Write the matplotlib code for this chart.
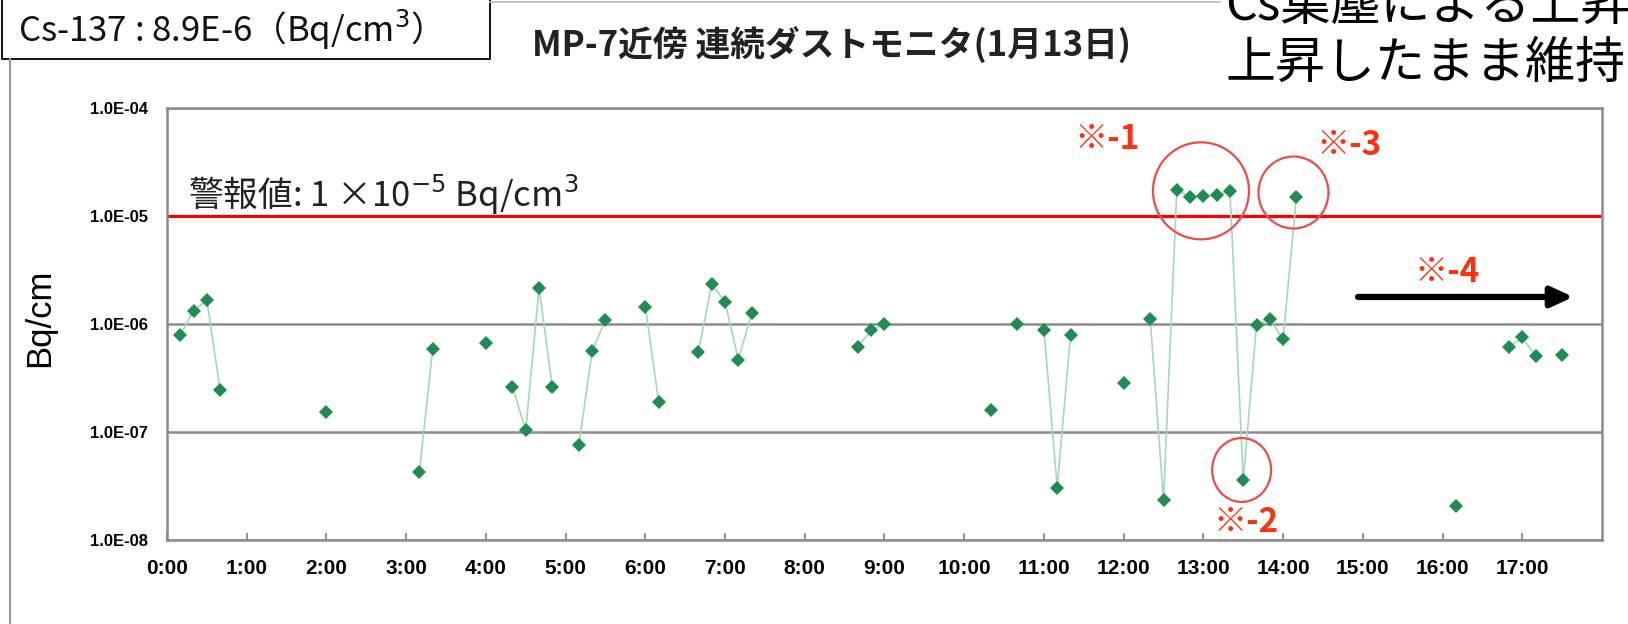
import numpy as np
import pandas as pd
import matplotlib
matplotlib.use('Agg')
import matplotlib.pyplot as plt
import matplotlib.patches as mpatches
import matplotlib.transforms as mtransforms
from matplotlib.lines import Line2D

plt.rcParams['font.family'] = ['Noto Sans CJK JP', 'DejaVu Sans']

# 10-minute readings of the dust monitor (Cs-137, Bq/cm3); missing slots are gaps
times = ['0:10', '0:20', '0:30', '0:40', '2:00', '3:10', '3:20', '4:00',
         '4:20', '4:30', '4:40', '4:50', '5:10', '5:20', '5:30', '6:00', '6:10',
         '6:40', '6:50', '7:00', '7:10', '7:20', '8:40', '8:50', '9:00',
         '10:20', '10:40', '11:00', '11:10', '11:20', '12:00',
         '12:20', '12:30', '12:40', '12:50', '13:00', '13:10', '13:20', '13:30',
         '13:40', '13:50', '14:00', '14:10',
         '16:10', '16:50', '17:00', '17:10', '17:30']
conc = [7.9e-7, 1.33e-6, 1.66e-6, 2.45e-7, 1.52e-7, 4.3e-8, 5.9e-7, 6.6e-7,
        2.63e-7, 1.04e-7, 2.17e-6, 2.6e-7, 7.6e-8, 5.6e-7, 1.09e-6, 1.45e-6, 1.91e-7,
        5.55e-7, 2.33e-6, 1.6e-6, 4.64e-7, 1.26e-6, 6.1e-7, 8.8e-7, 9.9e-7,
        1.6e-7, 1.0e-6, 8.8e-7, 3.05e-8, 7.9e-7, 2.87e-7,
        1.11e-6, 2.34e-8, 1.74e-5, 1.51e-5, 1.53e-5, 1.56e-5, 1.71e-5, 3.6e-8,
        9.8e-7, 1.11e-6, 7.2e-7, 1.51e-5,
        2.08e-8, 6.1e-7, 7.5e-7, 5.06e-7, 5.2e-7]

alarm = 1e-5
hour_labels = ['%d:00' % h for h in range(18)]
ytick_vals = [1e-8, 1e-7, 1e-6, 1e-5, 1e-4]
ytick_labels = ['1.0E-08', '1.0E-07', '1.0E-06', '1.0E-05', '1.0E-04']

# annotations: (text, hour, value)
notes = [('※-1', 11.79, 5.06e-5), ('※-2', 13.54, 1.44e-8),
         ('※-3', 14.83, 4.45e-5), ('※-4', 16.06, 3.03e-6)]
# red rings: (hour, value, width px, height px)
rings = [(12.97, 1.71e-5, 96, 97), (13.48, 4.45e-8, 59, 64), (14.13, 1.65e-5, 70, 72)]

hours = np.array([int(t.split(':')[0]) + int(t.split(':')[1]) / 60 for t in times])
slots = np.round(hours * 6).astype(int)
s = pd.Series(conc, index=slots).reindex(range(18 * 6))

W, H = 1628, 624
fig = plt.figure(figsize=(W / 100, H / 100), dpi=100)
ax = fig.add_axes([167 / W, 1 - 540 / H, 1435 / W, 432 / H])

ax.plot(s.index / 6, s.values, color='#a3d9bb', lw=1.2, zorder=3)
ax.plot(hours, conc, 'D', color='#1f8c52', ms=6.8, mew=0, zorder=4)
ax.axhline(alarm, color='#ff0000', lw=2.3, zorder=2)

ax.set_yscale('log')
ax.set_ylim(1e-8, 1e-4)
ax.set_xlim(0, 18)
ax.set_yticks(ytick_vals)
ax.set_yticklabels(ytick_labels, fontfamily='Liberation Sans', fontweight='bold', fontsize=12)
ax.yaxis.set_minor_locator(matplotlib.ticker.NullLocator())
ax.set_xticks(range(18))
ax.set_xticklabels(hour_labels, fontfamily='Liberation Sans', fontweight='bold', fontsize=15)
ax.tick_params(axis='y', length=0, pad=14)
ax.tick_params(axis='x', direction='in', length=5, width=1.3, color='#888888', pad=14)
ax.grid(axis='y', color='#8c8c8c', lw=1.8)
for sp in ax.spines.values():
    sp.set_color('#8c8c8c')
    sp.set_linewidth(1.8)

ax.text(0.26, 1.22e-5, '警報値: 1 ×10$^{-5}$ Bq/cm$^3$', fontsize=25, color='#222222',
        ha='left', va='baseline', zorder=5)

for txt, hx, vy in notes:
    ax.text(hx, vy, txt, color='#ff3010', fontsize=24, fontweight='bold',
            ha='center', va='center', zorder=6)

for hx, vy, w, h in rings:
    tr = fig.dpi_scale_trans + mtransforms.ScaledTranslation(hx, vy, ax.transData)
    ax.add_patch(mpatches.Ellipse((0, 0), w / 100, h / 100, transform=tr,
                                  fill=False, ec='#ee4b4b', lw=1.6, zorder=6))

ax.annotate('', xy=(17.64, 1.78e-6), xytext=(14.94, 1.78e-6),
            arrowprops=dict(arrowstyle='-|>,head_length=1.3,head_width=0.6',
                            color='black', lw=4.5, shrinkA=0, shrinkB=0), zorder=6)

ax.set_ylabel('Bq/cm', fontfamily='Liberation Sans', fontsize=25)
ax.yaxis.set_label_coords(56 / W, 1 - 318 / H, transform=fig.transFigure)

fig.text(831 / W, 1 - 45 / H, 'MP-7近傍 連続ダストモニタ(1月13日)', fontsize=25,
         fontweight='bold', color='#222222', ha='center', va='center')

# outer frame of the pasted chart and the legend box
fig.add_artist(Line2D([10 / W, 10 / W], [0, 1 - 59 / H], transform=fig.transFigure,
                      color='#999999', lw=1.5))
fig.add_artist(Line2D([490 / W, 1220 / W], [1 - 2 / H, 1 - 2 / H], transform=fig.transFigure,
                      color='#bbbbbb', lw=1.2))
fig.add_artist(mpatches.Rectangle((2 / W, 1 - 59 / H), 488 / W, 80 / H, transform=fig.transFigure,
                                  fc='white', ec='black', lw=1.3))
fig.text(18 / W, 1 - 30 / H, 'Cs-137 : 8.9E-6（Bq/cm$^3$）', fontsize=25, color='#111111',
         ha='left', va='center')

fig.text(1225 / W, 1 - 6 / H, 'Cs集塵による上昇', fontsize=36, color='black', ha='left', va='center')
fig.text(1225 / W, 1 - 64 / H, '上昇したまま維持', fontsize=36, color='black', ha='left', va='center')

fig.savefig('out.png', dpi=100)
